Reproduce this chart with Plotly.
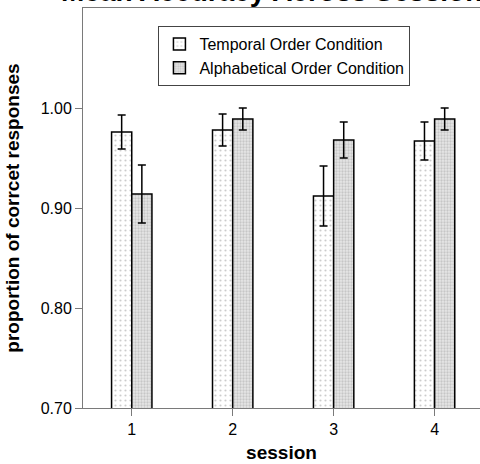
import plotly.graph_objects as go

sessions = ["1", "2", "3", "4"]
temporal_mean = [0.976, 0.978, 0.912, 0.967]
temporal_err = [0.017, 0.016, 0.030, 0.019]
alpha_mean = [0.914, 0.989, 0.968, 0.989]
alpha_err = [0.029, 0.011, 0.018, 0.011]
y_ticks = [0.70, 0.80, 0.90, 1.00]
y_tick_labels = ["0.70", "0.80", "0.90", "1.00"]

FONT = "Liberation Sans, Arial, sans-serif"
AXIS_GRAY = "#7a7a7a"

x_pos = [1, 2, 3, 4]

fig = go.Figure()
fig.add_trace(go.Bar(
    name="Temporal Order Condition",
    x=x_pos, y=temporal_mean,
    marker=dict(
        color="white",
        line=dict(color="black", width=1.5),
        pattern=dict(shape=".", fgcolor="#9a9a9a", bgcolor="white", size=5, solidity=0.15),
    ),
    error_y=dict(type="data", array=temporal_err, color="black", thickness=1.5, width=4),
))
fig.add_trace(go.Bar(
    name="Alphabetical Order Condition",
    x=x_pos, y=alpha_mean,
    marker=dict(
        color="#dcdcdc",
        line=dict(color="black", width=1.5),
        pattern=dict(shape=".", fgcolor="#a6a6a6", bgcolor="#e6e6e6", size=3, solidity=0.45),
    ),
    error_y=dict(type="data", array=alpha_err, color="black", thickness=1.5, width=4),
))

fig.update_layout(
    width=480, height=464,
    margin=dict(l=83, r=0, t=8, b=56),
    paper_bgcolor="white", plot_bgcolor="white",
    barmode="group", bargap=0.6, bargroupgap=0,
    font=dict(family=FONT, size=16, color="black"),
    showlegend=True,
    legend=dict(
        x=0.19, y=0.955, xanchor="left", yanchor="top",
        bgcolor="white", bordercolor="#444444", borderwidth=1,
        font=dict(family=FONT, size=16, color="black"),
        tracegroupgap=0, itemwidth=30,
    ),
    xaxis=dict(
        range=[0.517, 4.45],
        tickmode="array", tickvals=x_pos, ticktext=sessions,
        showline=True, linecolor=AXIS_GRAY, linewidth=1, mirror=True,
        ticks="outside", ticklen=7, tickcolor=AXIS_GRAY, tickwidth=1,
        showgrid=False, zeroline=False, automargin=False,
        tickfont=dict(family=FONT, size=16, color="black"),
        title=dict(text="<b>session</b>", font=dict(family=FONT, size=19, color="black"), standoff=8),
    ),
    yaxis=dict(
        range=[0.70, 1.10],
        tickmode="array", tickvals=y_ticks, ticktext=y_tick_labels,
        showline=True, linecolor=AXIS_GRAY, linewidth=1,
        ticks="outside", ticklen=7, tickcolor=AXIS_GRAY, tickwidth=1,
        showgrid=False, zeroline=False, automargin=False,
        tickfont=dict(family=FONT, size=16, color="black"),
        title=dict(text="<b>proportion of corrcet responses</b>", font=dict(family=FONT, size=19, color="black"), standoff=16),
    ),
    annotations=[dict(
        text="<b>Mean Accuracy Across Sessions</b>",
        xref="paper", yref="paper", x=0.494, y=0.9982,
        xanchor="center", yanchor="bottom", showarrow=False,
        font=dict(family=FONT, size=28, color="black"),
    )],
)

fig.write_html(
    "out.html",
    config={"displayModeBar": False},
    post_script="document.body.style.margin='0';document.body.style.overflow='hidden';",
)
